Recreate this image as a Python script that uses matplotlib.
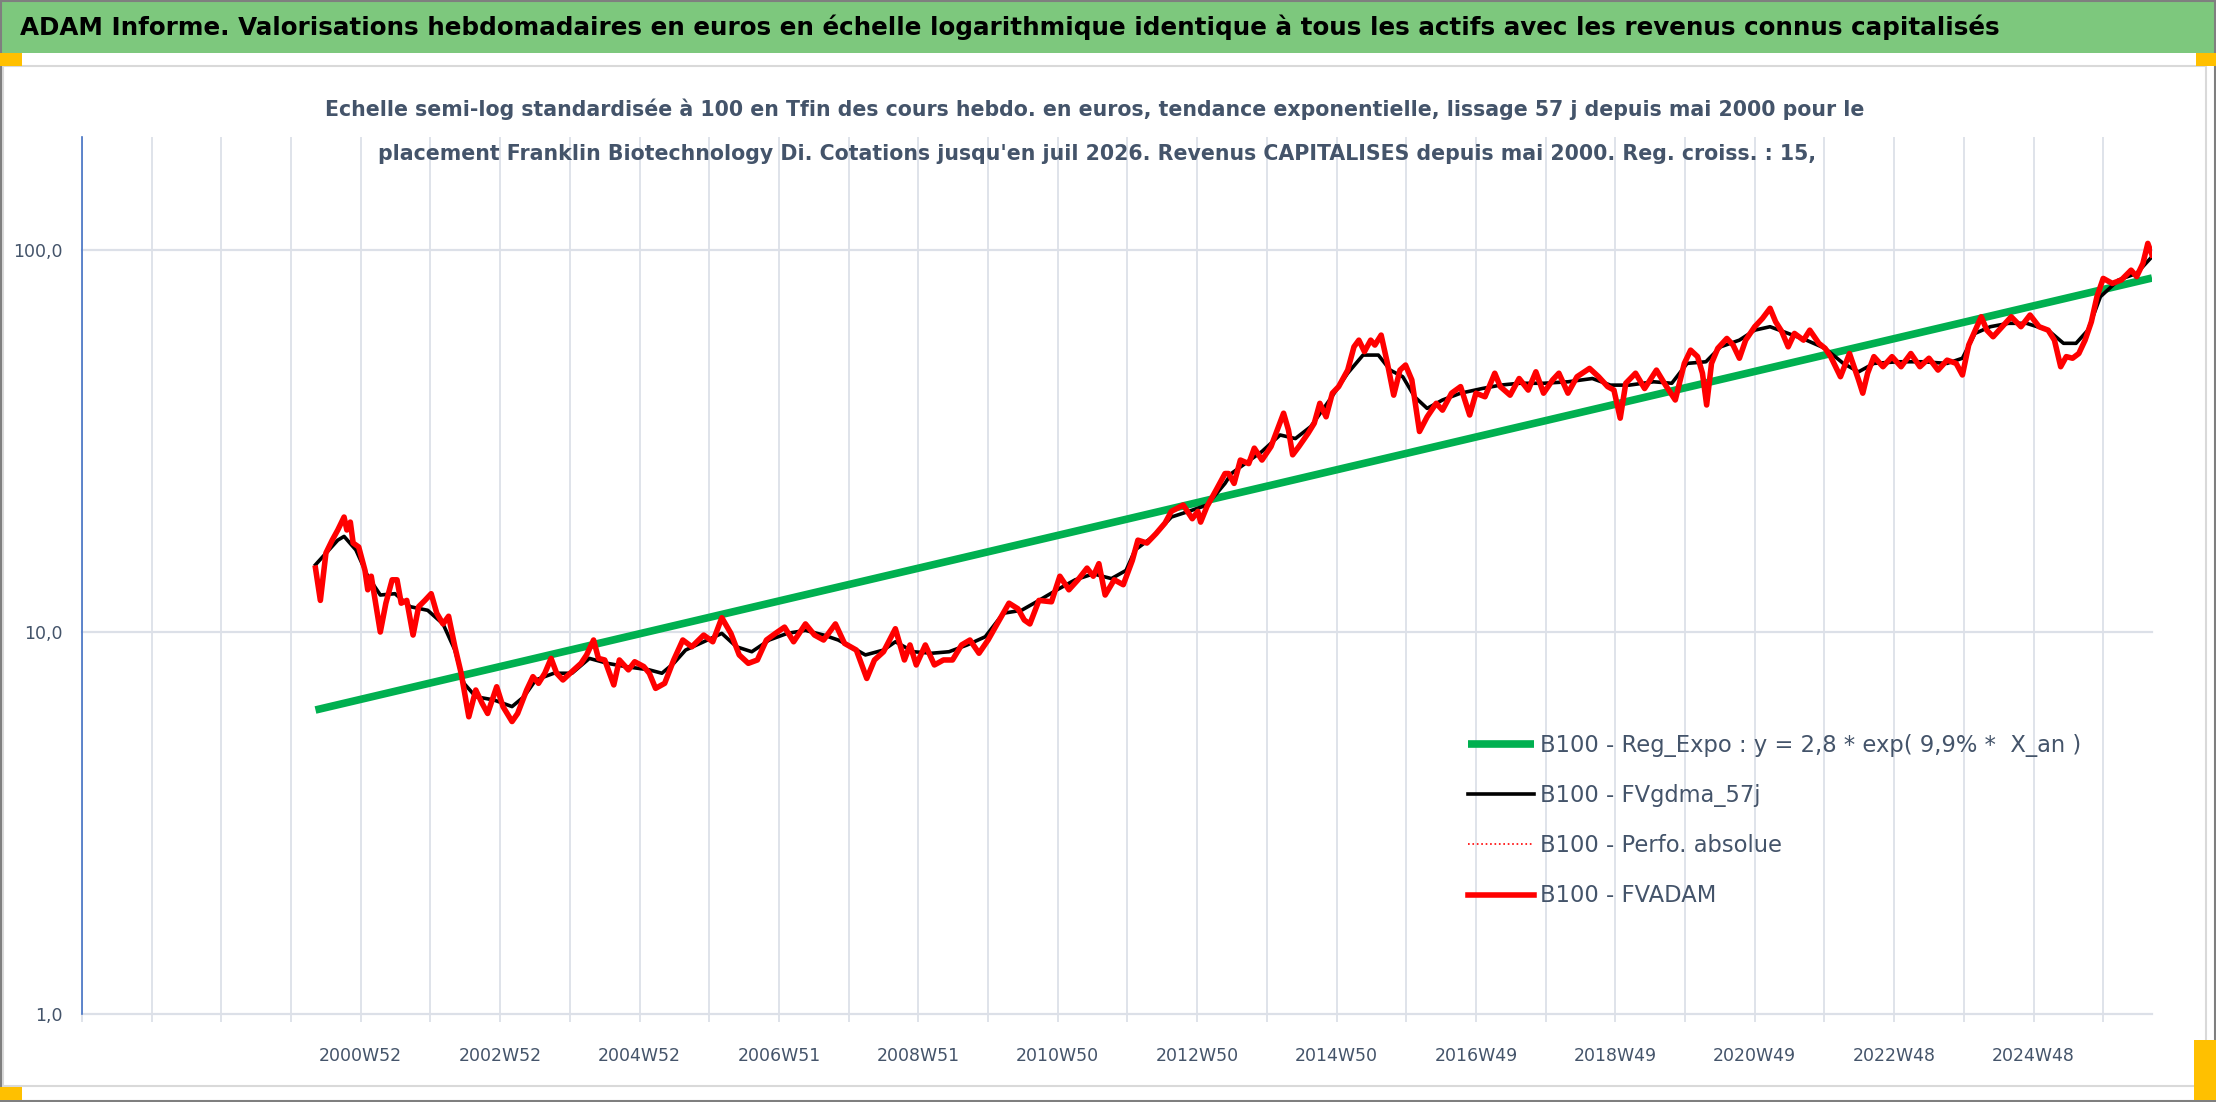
import matplotlib.pyplot as plt
from matplotlib.patches import Rectangle

# =============================================================
# Data
# x = position on the weekly category axis, in "gridline" units
# (one vertical gridline every 52 weeks, gridline 4 = 2000W52)
# =============================================================

label_pos = [4, 6, 8, 10, 12, 14, 16, 18, 20, 22, 24, 26, 28]
label_txt = ["2000W52", "2002W52", "2004W52", "2006W51", "2008W51", "2010W50",
             "2012W50", "2014W50", "2016W49", "2018W49", "2020W49", "2022W48",
             "2024W48"]

# B100 - FVADAM (weekly valuation, base 100 at the end)
red_t = [3.35, 3.42, 3.50, 3.59, 3.67, 3.76, 3.80, 3.85, 3.89, 3.97,
         4.06, 4.10, 4.15, 4.23, 4.28, 4.36, 4.45, 4.52, 4.58, 4.66,
         4.75, 4.83, 4.92, 5.01, 5.09, 5.18, 5.26, 5.35, 5.44, 5.55,
         5.65, 5.74, 5.82, 5.95, 6.04, 6.17, 6.25, 6.38, 6.47, 6.55,
         6.64, 6.73, 6.81, 6.90, 7.03, 7.16, 7.24, 7.34, 7.41, 7.50,
         7.63, 7.71, 7.84, 7.93, 8.06, 8.14, 8.23, 8.36, 8.49, 8.62,
         8.75, 8.92, 9.05, 9.18, 9.31, 9.43, 9.56, 9.69, 9.82, 9.95,
         10.08, 10.21, 10.38, 10.51, 10.64, 10.81, 10.94, 11.11, 11.26, 11.37,
         11.50, 11.67, 11.80, 11.88, 11.97, 12.10, 12.23, 12.36, 12.49, 12.62,
         12.74, 12.87, 13.00, 13.13, 13.30, 13.43, 13.52, 13.60, 13.73, 13.91,
         14.03, 14.16, 14.29, 14.42, 14.51, 14.59, 14.68, 14.81, 14.94, 15.07,
         15.15, 15.28, 15.41, 15.54, 15.63, 15.80, 15.93, 16.01, 16.05, 16.14,
         16.27, 16.40,
         16.45, 16.53, 16.62, 16.74, 16.82, 16.93, 17.06, 17.15, 17.24, 17.31,
         17.37, 17.46, 17.59, 17.68, 17.76, 17.85, 17.94, 18.03, 18.16, 18.25,
         18.32, 18.40, 18.49, 18.55, 18.64, 18.73, 18.82, 18.91, 18.99, 19.08,
         19.19, 19.30, 19.43, 19.52, 19.65, 19.78, 19.91, 20.00, 20.13, 20.27,
         20.35, 20.49, 20.62, 20.75, 20.86, 20.97, 21.10, 21.19, 21.32, 21.45,
         21.63, 21.76, 21.89, 21.98, 22.07, 22.15, 22.29, 22.42, 22.59, 22.72,
         22.86, 22.99, 23.08, 23.18, 23.25, 23.31, 23.38, 23.47, 23.60, 23.69,
         23.78, 23.87, 24.00, 24.11, 24.22, 24.30, 24.39, 24.48, 24.57, 24.70,
         24.79, 24.92, 25.01, 25.09, 25.23, 25.36, 25.49, 25.55, 25.62, 25.71,
         25.84, 25.97, 26.10, 26.24, 26.37, 26.50, 26.63, 26.76, 26.89, 26.98,
         27.07, 27.25, 27.33, 27.42, 27.55, 27.68, 27.82, 27.95, 28.08, 28.21,
         28.30, 28.39, 28.47, 28.56, 28.65, 28.74, 28.83, 28.91, 29.00, 29.13,
         29.26, 29.40, 29.48, 29.57, 29.64, 29.70]
red_v = [14.7, 12.1, 16.1, 17.4, 18.5, 20.0, 18.5, 19.4, 17.1, 16.7,
         14.5, 12.9, 14.0, 11.4, 10.0, 11.9, 13.7, 13.7, 11.9, 12.1,
         9.82, 11.65, 12.1, 12.6, 11.2, 10.5, 11.0, 9.15, 7.80, 6.00,
         7.05, 6.51, 6.12, 7.19, 6.38, 5.83, 6.12, 7.05, 7.64, 7.34,
         7.80, 8.53, 7.80, 7.49, 7.88, 8.28, 8.71, 9.53, 8.53, 8.45,
         7.27, 8.45, 7.96, 8.36, 8.12, 7.80, 7.12, 7.34, 8.45, 9.53,
         9.15, 9.82, 9.43, 10.9, 9.92, 8.71, 8.28, 8.45, 9.53, 9.92,
         10.3, 9.43, 10.5, 9.82, 9.53, 10.5, 9.34, 8.97, 7.56, 8.45,
         8.88, 10.2, 8.45, 9.25, 8.20, 9.25, 8.20, 8.45, 8.45, 9.25,
         9.53, 8.80, 9.53, 10.5, 11.9, 11.5, 10.75, 10.5, 12.1, 12.0,
         14.0, 12.9, 13.7, 14.7, 14.0, 15.1, 12.5, 13.7, 13.3, 15.4,
         17.4, 17.1, 18.1, 19.3, 20.7, 21.5, 19.8, 20.7, 19.4, 21.3,
         23.5, 26.0,
         26.0, 24.5, 28.2, 27.6, 30.3, 28.2, 30.6, 33.8, 37.4, 33.8,
         29.1, 30.6, 33.1, 35.2, 39.7, 36.6, 42.2, 43.9, 48.5, 55.8,
         58.1, 54.2, 58.1, 56.4, 59.9, 50.5, 41.7, 48.5, 50.0, 45.7,
         33.5, 36.6, 39.7, 38.1, 42.2, 43.9, 37.0, 42.2, 41.3, 47.6,
         43.9, 41.7, 46.1, 43.0, 48.0, 42.2, 45.7, 47.6, 42.2, 46.6,
         49.0, 46.6, 43.9, 43.0, 36.3, 44.8, 47.6, 43.4, 48.5, 44.3,
         40.5, 50.5, 54.7, 52.6, 47.6, 39.3, 50.5, 55.3, 58.7, 56.4,
         52.1, 58.1, 63.0, 66.2, 70.4, 64.9, 61.1, 55.8, 60.5, 58.1,
         61.7, 57.0, 55.3, 52.6, 46.6, 53.6, 45.7, 42.2, 47.6, 52.6,
         49.5, 52.6, 49.5, 53.6, 49.5, 52.1, 48.5, 51.5, 50.5, 47.1,
         56.4, 66.9, 61.7, 59.3, 63.0, 66.9, 63.0, 67.6, 63.0, 61.7,
         58.1, 49.5, 52.6, 52.1, 53.6, 58.1, 64.9, 75.5, 84.3, 81.8,
         83.5, 88.6, 85.2, 92.3, 104.1, 97.1]

# B100 - FVgdma_57j (smoothed series)
blk_t = [3.35, 3.67, 3.76, 3.93, 4.10, 4.28, 4.49, 4.71, 4.96, 5.18,
         5.35, 5.48, 5.65, 5.91, 6.17, 6.34, 6.51, 6.77, 7.03, 7.28,
         7.54, 7.80, 8.14, 8.32, 8.49, 8.66, 8.92, 9.18, 9.39, 9.61,
         9.86, 10.12, 10.38, 10.64, 10.85, 11.07, 11.24, 11.50, 11.67, 11.93,
         12.19, 12.44, 12.70, 12.96, 13.22, 13.48, 13.73, 13.99, 14.25, 14.51,
         14.77, 14.98, 15.11, 15.37, 15.63, 15.88, 16.14, 16.40,
         16.49, 16.93, 17.19, 17.41, 17.63, 17.90, 18.16, 18.38, 18.60, 18.77,
         18.95, 19.12, 19.30, 19.52, 19.78, 20.09, 20.35, 20.62, 20.97, 21.32,
         21.67, 21.93, 22.20, 22.55, 22.81, 23.03, 23.30, 23.51, 23.78, 24.00,
         24.22, 24.48, 24.74, 25.01, 25.27, 25.49, 25.71, 26.06, 26.41, 26.76,
         26.98, 27.16, 27.38, 27.64, 27.90, 28.21, 28.43, 28.61, 28.78, 28.96,
         29.22, 29.48, 29.70]
blk_v = [15.0, 17.4, 17.8, 16.4, 14.0, 12.5, 12.6, 11.65, 11.4, 10.5,
         8.97, 7.34, 6.77, 6.64, 6.38, 6.77, 7.49, 7.80, 7.80, 8.53,
         8.28, 8.12, 7.96, 7.80, 8.28, 8.97, 9.43, 9.92, 9.15, 8.88,
         9.53, 9.92, 10.1, 9.82, 9.53, 9.07, 8.71, 8.97, 9.43, 8.88,
         8.80, 8.88, 9.25, 9.72, 11.2, 11.4, 12.1, 12.9, 13.7, 14.2,
         13.8, 14.5, 16.4, 17.8, 20.0, 20.7, 21.5, 24.5,
         26.0, 29.7, 32.8, 32.1, 34.5, 40.5, 47.6, 53.1, 53.1, 48.5,
         46.6, 41.3, 38.5, 40.5, 42.2, 43.4, 44.3, 44.8, 44.8, 45.2,
         46.1, 44.3, 44.3, 45.2, 44.8, 50.5, 51.0, 55.8, 58.1, 61.7,
         63.0, 60.5, 58.1, 55.3, 50.5, 48.0, 50.5, 51.0, 51.0, 50.5,
         52.1, 60.5, 63.0, 64.3, 64.3, 61.7, 57.0, 57.0, 61.7, 75.5,
         83.5, 86.9, 96.1]

# B100 - Reg_Expo : end points of the exponential trend
trend_t = [3.35, 29.70]
trend_v = [6.25, 84.5]

legend_txt = ["B100 - Reg_Expo : y = 2,8 * exp( 9,9% *  X_an )",
              "B100 - FVgdma_57j",
              "B100 - Perfo. absolue",
              "B100 - FVADAM"]

title = ("ADAM Informe. Valorisations hebdomadaires en euros en échelle logarithmique "
         "identique à tous les actifs avec les revenus connus capitalisés")
sub1 = ("Echelle semi-log standardisée à 100 en Tfin des cours hebdo. en euros, tendance "
        "exponentielle, lissage 57 j depuis mai 2000 pour le")
sub2 = ("placement Franklin Biotechnology Di. Cotations jusqu'en juil 2026. Revenus "
        "CAPITALISES depuis mai 2000. Reg. croiss. : 15,")

# =============================================================
# Figure
# =============================================================
W, H = 2216, 1102
GRID = "#DCE0E8"
TXT = "#44546A"

fig = plt.figure(figsize=(W / 100, H / 100), dpi=100)


def px_rect(x0, y0, x1, y1, **kw):
    # rectangle given in pixel coords (origin top-left)
    r = Rectangle((x0 / W, 1 - y1 / H), (x1 - x0) / W, (y1 - y0) / H,
                  transform=fig.transFigure, **kw)
    fig.patches.append(r)


# title bar + chart frame
px_rect(0, 0, W, 53, facecolor="#7DC87D", edgecolor="none")
px_rect(3, 66, 2206, 1086, facecolor="none", edgecolor="#D9D9D9", lw=1.5)
px_rect(1, 1, W - 1, H - 1, facecolor="none", edgecolor="#7F7F7F", lw=1.5)
for box in [(0, 53, 22, 66), (2196, 53, W, 66), (0, 1087, 22, 1100), (2194, 1040, W, 1100)]:
    px_rect(*box, facecolor="#FFC000", edgecolor="none")

fig.text(20 / W, 1 - 27 / H, title, ha="left", va="center",
         fontsize=17.7, fontweight="bold", color="black")
fig.text(1095 / W, 1 - 109 / H, sub1, ha="center", va="center",
         fontsize=14.8, fontweight="bold", color=TXT)
fig.text(1097 / W, 1 - 154 / H, sub2, ha="center", va="center",
         fontsize=14.8, fontweight="bold", color=TXT)

# plot area
ax = fig.add_axes([82 / W, 1 - 1014 / H, (2152 - 82) / W, (1014 - 137) / H])
ax.set_yscale("log")
ax.set_ylim(1, 197.7)
ax.set_xlim(0, 29.70)

for s in ["top", "right", "bottom"]:
    ax.spines[s].set_visible(False)
ax.spines["left"].set_color("#4472C4")
ax.spines["left"].set_linewidth(1.2)

for yv in [1, 10, 100]:
    ax.axhline(yv, color=GRID, lw=1.6, zorder=0, clip_on=False)

ax.set_xticks(range(0, 30))
ax.set_xticklabels([label_txt[label_pos.index(k)] if k in label_pos else "" for k in range(30)])
ax.tick_params(axis="x", length=6, width=1.3, color=GRID, pad=18,
               labelsize=12.5, labelcolor=TXT)
ax.grid(axis="x", color=GRID, lw=1.3, zorder=0)

ax.set_yticks([1, 10, 100])
ax.set_yticklabels(["1,0", "10,0", "100,0"])
ax.minorticks_off()
ax.tick_params(axis="y", length=0, pad=14, labelsize=12.5, labelcolor=TXT)

# series
ax.plot(trend_t, trend_v, color="#00B050", lw=5.5, solid_capstyle="butt",
        label=legend_txt[0], zorder=2)
ax.plot(blk_t, blk_v, color="black", lw=2.6, label=legend_txt[1], zorder=3)
ax.plot(red_t, red_v, color="#FF0000", lw=1.2, ls=":", label=legend_txt[2], zorder=3)
ax.plot(red_t, red_v, color="#FF0000", lw=4, label=legend_txt[3], zorder=4)

fig.legend(loc="upper left", bbox_to_anchor=(1468 / W, 1 - 734 / H),
           frameon=False, fontsize=16.3, handlelength=2.9, handletextpad=0.3,
           labelspacing=1.2, borderpad=0, borderaxespad=0, labelcolor=TXT)

fig.savefig("out.png", dpi=100)
